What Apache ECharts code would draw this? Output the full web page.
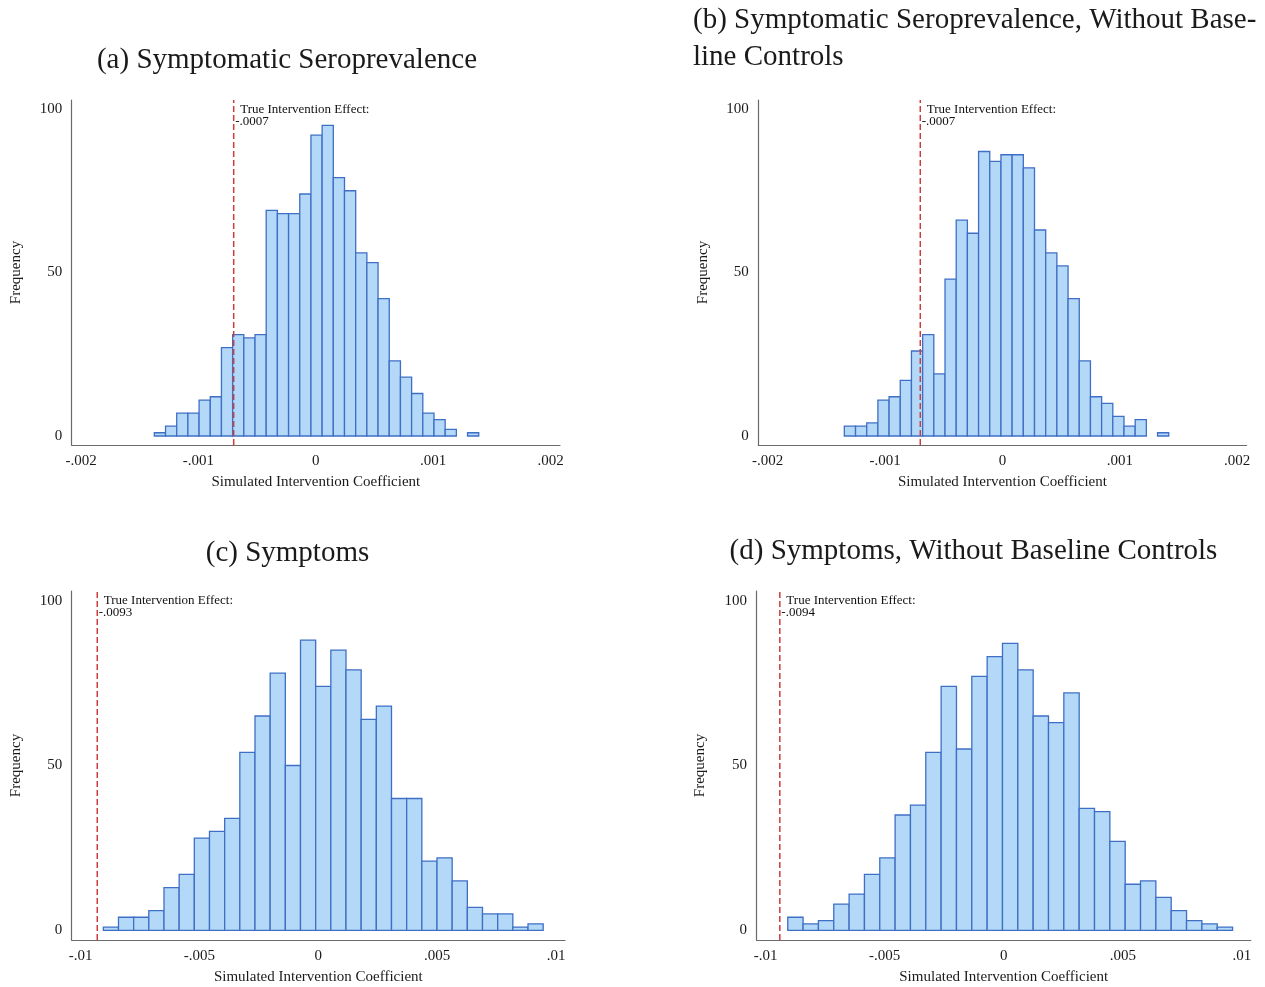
<!DOCTYPE html>
<html>
<head>
<meta charset="utf-8">
<script src="https://cdn.jsdelivr.net/npm/echarts@6/dist/echarts.min.js"></script>
<style>html,body{margin:0;padding:0;background:#fff}#c{width:1265px;height:987px}</style>
</head>
<body>
<div id="c"></div>
<script>
// ---------- DATA ----------
const titleA = '(a) Symptomatic Seroprevalence';
const titleB = '(b) Symptomatic Seroprevalence, Without Base-\nline Controls';
const titleC = '(c) Symptoms';
const titleD = '(d) Symptoms, Without Baseline Controls';
const xName = 'Simulated Intervention Coefficient';
const yName = 'Frequency';
const effectLabel = 'True Intervention Effect:';

const yTicks = [0, 50, 100];
const xTicksAB = [-0.002, -0.001, 0, 0.001, 0.002];
const xTicksCD = [-0.01, -0.005, 0, 0.005, 0.01];

const binStartA = -0.001376, binWidthA = 0.0000953;
const countsA = [1,3,7,7,11,12,27,31,30,31,69,68,68,74,92,95,79,75,56,53,42,23,18,13,7,5,2,0,1];
const effectA = -0.0007;

const binStartB = -0.001347, binWidthB = 0.0000953;
const countsB = [3,3,4,11,12,17,26,31,19,48,66,62,87,84,86,86,82,63,56,52,42,23,12,10,6,3,5,0,1];
const effectB = -0.0007;

const binStartC = -0.009045, binWidthC = 0.000638;
const countsC = [1,4,4,6,13,17,28,30,34,54,65,78,50,88,74,85,79,64,68,40,40,21,22,15,7,5,5,1,2];
const effectC = -0.0093;

const binStartD = -0.009067, binWidthD = 0.000644;
const countsD = [4,2,3,8,11,17,22,35,38,54,74,55,77,83,87,79,65,63,72,37,36,27,14,15,10,6,3,2,1];
const effectD = -0.0094;

// ---------- STYLE / LAYOUT ----------
const SERIF = '"Liberation Serif","Times New Roman",serif';
const TXT = '#1a1a1a';
const AXIS = '#6a6a6a';
const FILL = '#b3d8f8';
const EDGE = '#3f6fc5';
const RED = '#cc3b3e';

const panels = [
  {counts: countsA, start: binStartA, width: binWidthA, effect: effectA, ticks: xTicksAB,
   xr: [-0.00208, 0.00208], yr: [-2.75, 102.75],
   grid: {left: 71.7, top: 100, width: 488.3, height: 345}, nameGap: 48},
  {counts: countsB, start: binStartB, width: binWidthB, effect: effectB, ticks: xTicksAB,
   xr: [-0.00208, 0.00208], yr: [-2.75, 102.75],
   grid: {left: 758.3, top: 100, width: 488.3, height: 345}, nameGap: 48},
  {counts: countsC, start: binStartC, width: binWidthC, effect: effectC, ticks: xTicksCD,
   xr: [-0.010375, 0.010375], yr: [-2.9, 102.9],
   grid: {left: 71.7, top: 591, width: 493.3, height: 349}, nameGap: 48},
  {counts: countsD, start: binStartD, width: binWidthD, effect: effectD, ticks: xTicksCD,
   xr: [-0.010375, 0.010375], yr: [-2.9, 102.9],
   grid: {left: 756.6, top: 591, width: 494.2, height: 349}, nameGap: 49}
];

function fmt(v) {
  if (Math.abs(v) < 1e-12) return '0';
  return String(+v.toPrecision(6)).replace('0.', '.');
}

const grids = [], xAxes = [], yAxes = [], series = [];
panels.forEach((p, i) => {
  grids.push(Object.assign({outerBoundsMode: 'none', containLabel: false}, p.grid));
  xAxes.push({
    type: 'value', gridIndex: i, min: p.xr[0], max: p.xr[1],
    name: xName, nameLocation: 'middle', nameGap: 30,
    nameTextStyle: {fontFamily: SERIF, fontSize: 15, color: TXT},
    axisLine: {show: true, onZero: false, lineStyle: {color: AXIS, width: 1.2}},
    axisTick: {show: false},
    splitLine: {show: false},
    axisLabel: {customValues: p.ticks, formatter: fmt, margin: 9,
      fontFamily: SERIF, fontSize: 15, color: TXT}
  });
  yAxes.push({
    type: 'value', gridIndex: i, min: p.yr[0], max: p.yr[1],
    name: yName, nameLocation: 'middle', nameGap: p.nameGap,
    nameTextStyle: {fontFamily: SERIF, fontSize: 15, color: TXT},
    axisLine: {show: true, onZero: false, lineStyle: {color: AXIS, width: 1.2}},
    axisTick: {show: false},
    splitLine: {show: false},
    axisLabel: {customValues: yTicks, margin: 9.5,
      fontFamily: SERIF, fontSize: 15, color: TXT}
  });
  const bins = p.counts.map((c, k) => [p.start + k * p.width, p.start + (k + 1) * p.width, c]);
  series.push({
    type: 'custom', xAxisIndex: i, yAxisIndex: i, data: bins,
    encode: {x: [0, 1], y: 2},
    renderItem: function (params, api) {
      const c = api.value(2);
      if (!c) return null;
      const p0 = api.coord([api.value(0), c]);
      const p1 = api.coord([api.value(1), 0]);
      return {
        type: 'rect',
        shape: {x: p0[0], y: p0[1], width: p1[0] - p0[0], height: p1[1] - p0[1]},
        style: {fill: FILL, stroke: EDGE, lineWidth: 1.3}
      };
    }
  });
  series.push({
    type: 'line', xAxisIndex: i, yAxisIndex: i, symbol: 'none', silent: true,
    data: [[p.effect, p.yr[0]], [p.effect, p.yr[1]]],
    lineStyle: {color: RED, width: 1.5, type: [6, 3]}
  });
  series.push({
    type: 'scatter', xAxisIndex: i, yAxisIndex: i, symbolSize: 1, silent: true,
    itemStyle: {color: 'rgba(0,0,0,0)'},
    data: [[p.effect, p.yr[1]]],
    label: {
      show: true, position: [2, 3.5], color: TXT, opacity: 1,
      formatter: '{a|' + effectLabel + '}\n{b|' + fmt(p.effect) + '}',
      rich: {
        a: {fontFamily: SERIF, fontSize: 13, lineHeight: 12.5, color: '#111', padding: [0, 0, 0, 5]},
        b: {fontFamily: SERIF, fontSize: 13, lineHeight: 12.5, color: '#111'}
      }
    }
  });
});

const titleFont = 'normal 29px ' + SERIF;
const graphics = [
  {type: 'text', x: 287, y: 60.5, style: {text: titleA, font: titleFont, fill: TXT, align: 'center', verticalAlign: 'middle'}},
  {type: 'text', x: 693, y: 1.5, style: {text: titleB, font: titleFont, fill: TXT, align: 'left', verticalAlign: 'top', lineHeight: 37}},
  {type: 'text', x: 287.5, y: 553.5, style: {text: titleC, font: titleFont, fill: TXT, align: 'center', verticalAlign: 'middle'}},
  {type: 'text', x: 973.5, y: 551.5, style: {text: titleD, font: titleFont, fill: TXT, align: 'center', verticalAlign: 'middle'}}
];

const chart = echarts.init(document.getElementById('c'), null, {renderer: 'canvas'});
chart.setOption({
  animation: false,
  backgroundColor: '#ffffff',
  grid: grids, xAxis: xAxes, yAxis: yAxes, series: series,
  graphic: graphics
});
</script>
</body>
</html>
